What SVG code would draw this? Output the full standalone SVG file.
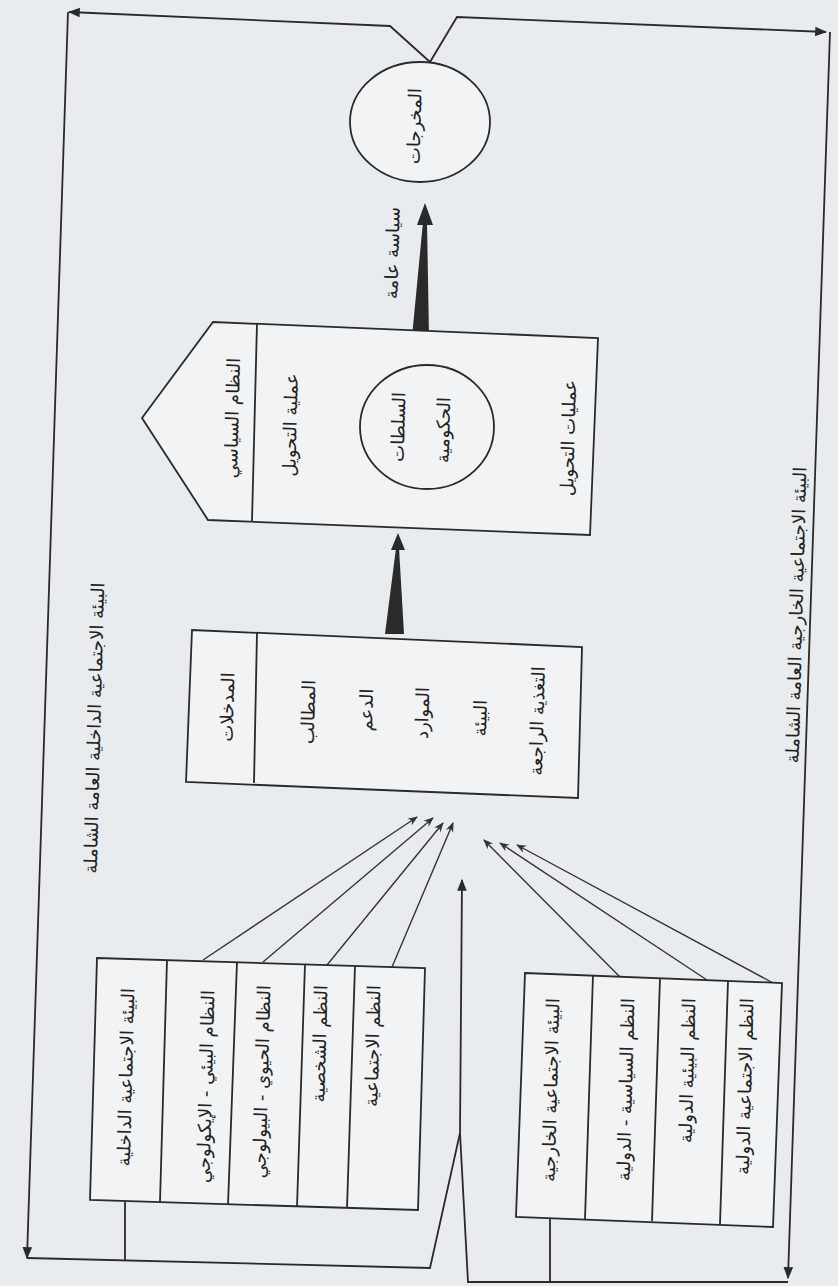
<svg xmlns="http://www.w3.org/2000/svg" width="838" height="1286" viewBox="0 0 838 1286">
<style>
.bg{fill:#e9ecee}
.box{fill:#f1f3f4;stroke:#2a2a2a;stroke-width:1.8}
.ln{fill:none;stroke:#2a2a2a;stroke-width:1.8}
.thin{fill:none;stroke:#333;stroke-width:1.4}
.dash{fill:none;stroke:#333;stroke-width:1.4;stroke-dasharray:4 3}
.solid{fill:#2a2a2a;stroke:none}
.t{font-family:"DejaVu Sans",sans-serif;font-size:18px;fill:#222;dominant-baseline:central}
.m{text-anchor:middle}
.e{text-anchor:end}
</style>
<defs>
<marker id="ah" viewBox="0 0 10 10" refX="9" refY="5" markerWidth="12" markerHeight="12" orient="auto-start-reverse" markerUnits="userSpaceOnUse"><path d="M0,1 L10,5 L0,9 z" fill="#2a2a2a"/></marker>
<marker id="sa" viewBox="0 0 10 10" refX="9" refY="5" markerWidth="10" markerHeight="10" orient="auto-start-reverse" markerUnits="userSpaceOnUse"><path d="M0,1 L10,5 L0,9 L3,5 z" fill="#333"/></marker>
<marker id="da" viewBox="0 0 10 10" refX="9" refY="5" markerWidth="8" markerHeight="8" orient="auto-start-reverse" markerUnits="userSpaceOnUse"><path d="M1,1 L9,5 L1,9" fill="none" stroke="#333" stroke-width="1.6"/></marker>
</defs>
<rect class="bg" x="0" y="0" width="838" height="1286"/>

<g id="connectors">
<polyline class="ln" points="69,12 390,26 430,62 457,17 826,32" marker-start="url(#ah)" marker-end="url(#ah)"/>
<line class="ln" x1="68" y1="12" x2="27" y2="1258" marker-end="url(#ah)"/>
<line class="ln" x1="830" y1="32" x2="788" y2="1278" marker-end="url(#ah)"/>
<polyline class="ln" points="27,1258 430,1268 460,1133"/>
<polyline class="ln" points="788,1282 468,1282 460,1133"/>
<line class="ln" x1="460" y1="1133" x2="462" y2="880" marker-end="url(#ah)"/>
<line class="ln" x1="125" y1="1202" x2="125" y2="1261"/>
<line class="ln" x1="550" y1="1217" x2="550" y2="1282"/>
<polygon class="solid" points="412,337 429,337 427,222 423,222"/>
<polygon class="solid" points="417,225 433,225 425,203"/>
<polygon class="solid" points="385,634 404,634 399,548 396,548"/>
<polygon class="solid" points="391,550 405,550 398,533"/>
<line class="thin" x1="203" y1="960" x2="417" y2="817" marker-end="url(#sa)"/>
<line class="thin" x1="263" y1="962" x2="433" y2="818" marker-end="url(#sa)"/>
<line class="thin" x1="327" y1="965" x2="443" y2="823" marker-end="url(#sa)"/>
<line class="thin" x1="392" y1="967" x2="453" y2="823" marker-end="url(#sa)"/>
<line class="thin" x1="620" y1="977" x2="484" y2="840" marker-end="url(#sa)"/>
<line class="thin" x1="707" y1="980" x2="500" y2="843" marker-end="url(#sa)"/>
<line class="thin" x1="773" y1="983" x2="517" y2="845" marker-end="url(#sa)"/>
<line class="dash" x1="310" y1="421" x2="355" y2="421" marker-start="url(#da)" marker-end="url(#da)"/>
<line class="dash" x1="497" y1="430" x2="542" y2="430" marker-start="url(#da)" marker-end="url(#da)"/>
</g>

<g id="outputs">
<ellipse class="box" cx="420" cy="122" rx="70" ry="60"/>
<text class="t m" transform="translate(414,126) rotate(-88.5)">المخرجات</text>
</g>
<text class="t m" font-size="20" transform="translate(392,253) rotate(-88.5)">سياسة عامة</text>

<g id="political-system">
<polygon class="box" points="142,418 213,322 598,338 590,535 208,520"/>
<line class="ln" x1="257" y1="323" x2="252" y2="521"/>
<text class="t m" font-size="19" transform="translate(232,418) rotate(-88.5)">النظام السياسي</text>
<text class="t m" transform="translate(290,425) rotate(-88.5)">عملية التحويل</text>
<text class="t m" transform="translate(568,438) rotate(-88.5)">عمليات التحويل</text>
</g>
<g id="government">
<ellipse class="box" cx="427" cy="427" rx="67" ry="62"/>
<text class="t m" transform="translate(398,427) rotate(-88.5)">السلطات</text>
<text class="t m" font-size="19" transform="translate(443,430) rotate(-88.5)">الحكومية</text>
</g>

<g id="inputs">
<polygon class="box" points="192,630 582,647 578,798 186,782"/>
<line class="ln" x1="257" y1="632" x2="254" y2="783"/>
<text class="t m" transform="translate(227,707) rotate(-88.5)">المدخلات</text>
<text class="t m" transform="translate(308,712) rotate(-88.5)">المطالب</text>
<text class="t m" transform="translate(366,710) rotate(-88.5)">الدعم</text>
<text class="t m" transform="translate(422,713) rotate(-88.5)">الموارد</text>
<text class="t m" transform="translate(480,718) rotate(-88.5)">البيئة</text>
<text class="t m" transform="translate(537,721) rotate(-88.5)">التغذية الراجعة</text>
</g>

<g id="intra-environment">
<polygon class="box" points="97,958 425,968 418,1210 90,1200"/>
<line class="ln" x1="167" y1="960" x2="160" y2="1202"/>
<line class="ln" x1="237" y1="962" x2="228" y2="1205"/>
<line class="ln" x1="305" y1="964" x2="297" y2="1207"/>
<line class="ln" x1="355" y1="966" x2="347" y2="1208"/>
<text class="t e" transform="translate(128,988) rotate(-88.5)">البيئة الاجتماعية الداخلية</text>
<text class="t e" transform="translate(208,990) rotate(-88.5)">النظام البيئي - الإيكولوجي</text>
<text class="t e" font-size="16" transform="translate(264,985) rotate(-88.5)">النظام الحيوي - البيولوجي</text>
<text class="t e" font-size="17" transform="translate(321,985) rotate(-88.5)">النظم الشخصية</text>
<text class="t e" font-size="17" transform="translate(374,985) rotate(-88.5)">النظم الاجتماعية</text>
</g>

<g id="extra-environment">
<polygon class="box" points="525,973 782,983 773,1227 516,1217"/>
<line class="ln" x1="593" y1="975" x2="585" y2="1219"/>
<line class="ln" x1="660" y1="978" x2="652" y2="1221"/>
<line class="ln" x1="728" y1="981" x2="720" y2="1224"/>
<text class="t e" transform="translate(553,998) rotate(-88.5)">البيئة الاجتماعية الخارجية</text>
<text class="t e" font-size="19" transform="translate(628,998) rotate(-88.5)">النظم السياسية - الدولية</text>
<text class="t e" transform="translate(689,998) rotate(-88.5)">النظم البيئية الدولية</text>
<text class="t e" transform="translate(747,998) rotate(-88.5)">النظم الاجتماعية الدولية</text>
</g>

<text class="t m" transform="translate(94,728) rotate(-88.5)">البيئة الاجتماعية الداخلية العامة الشاملة</text>
<text class="t m" transform="translate(796,615) rotate(-88.5)">البيئة الاجتماعية الخارجية العامة الشاملة</text>
</svg>
